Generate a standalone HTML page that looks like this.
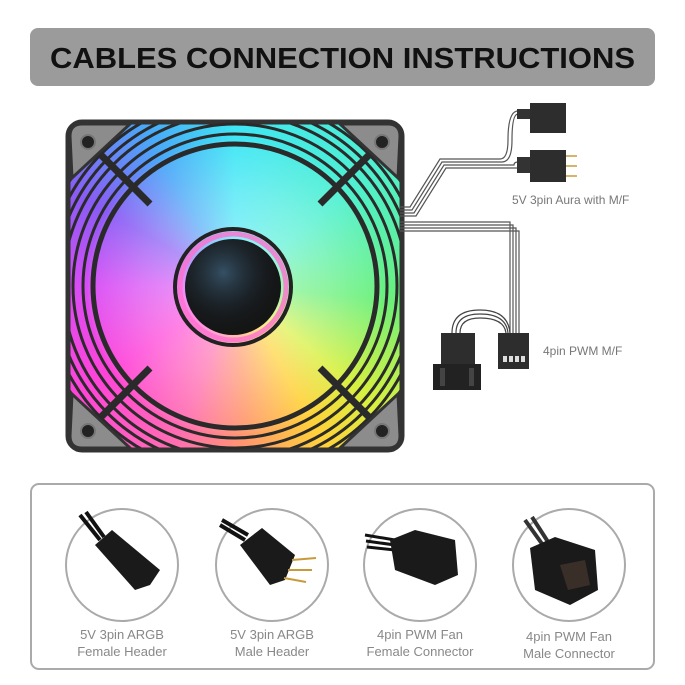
<!DOCTYPE html>
<html><head><meta charset="utf-8"><style>
html,body{margin:0;padding:0;background:#fff;}
#w{position:relative;width:685px;height:685px;overflow:hidden;font-family:"Liberation Sans",sans-serif;}
.abs{position:absolute;}
#sq{left:68px;top:122px;width:334px;height:328px;border-radius:14px;background:conic-gradient(from 0deg at 50% 50%,#3fe6f5 0deg,#4ef0d0 50deg,#6af07a 95deg,#d8f040 130deg,#ffd23a 150deg,#ff9a6a 175deg,#ff6fb0 200deg,#ff44d8 235deg,#d84cf5 270deg,#8a5cf5 300deg,#4aa8f8 330deg,#3fe6f5 360deg);}
#glow{left:88px;top:140px;width:294px;height:294px;border-radius:50%;background:radial-gradient(circle at 50% 50%,rgba(255,255,255,.55) 0%,rgba(255,255,255,.25) 45%,rgba(255,255,255,0) 75%);}
</style></head><body><div id="w">
<div class="abs" id="sq"></div>
<div class="abs" id="glow"></div>
<svg class="abs" style="left:0;top:0" width="685" height="685" viewBox="0 0 685 685">
<defs>
<radialGradient id="hg" cx="40%" cy="35%" r="70%"><stop offset="0" stop-color="#6ad" stop-opacity=".4"/><stop offset="1" stop-color="#000" stop-opacity="0"/></radialGradient>
<clipPath id="sqc"><rect x="68" y="122" width="334" height="328" rx="14"/></clipPath>
</defs>
<!-- title -->
<rect x="30" y="28" width="625" height="58" rx="8" fill="#9b9b9b"/>
<text x="50" y="68" textLength="585" lengthAdjust="spacingAndGlyphs" font-family="Liberation Sans, sans-serif" font-weight="bold" font-size="29" fill="#111">CABLES CONNECTION INSTRUCTIONS</text>
<!-- fan ribs stripes -->
<g clip-path="url(#sqc)" fill="none" stroke="#2a2a2a" stroke-width="3">
<circle cx="235" cy="286" r="172"/><circle cx="235" cy="286" r="180"/><circle cx="235" cy="286" r="188"/><circle cx="235" cy="286" r="196"/><circle cx="235" cy="286" r="204"/><circle cx="235" cy="286" r="212"/>
</g>
<!-- fan frame -->
<rect x="68" y="122" width="334" height="328" rx="14" fill="none" stroke="#333" stroke-width="5"/>
<g fill="#8c8c8c" stroke="#333" stroke-width="3">
<path d="M70 136 Q70 124 82 124 L130 124 L72 178 Z"/>
<path d="M400 136 Q400 124 388 124 L340 124 L398 178 Z"/>
<path d="M70 436 Q70 448 82 448 L130 448 L72 394 Z"/>
<path d="M400 436 Q400 448 388 448 L340 448 L398 394 Z"/>
</g>
<g fill="#222" stroke="#777" stroke-width="2">
<circle cx="88" cy="142" r="7"/><circle cx="382" cy="142" r="7"/>
<circle cx="88" cy="431" r="7"/><circle cx="382" cy="431" r="7"/>
</g>
<g fill="none" stroke="#2a2a2a" stroke-width="3">
<circle cx="235" cy="286" r="162"/>
<circle cx="235" cy="286" r="152"/>
<circle cx="235" cy="286" r="142" stroke-width="5"/>
</g>
<g stroke="#2a2a2a" stroke-width="7">
<line x1="100" y1="154" x2="150" y2="204"/><line x1="370" y1="154" x2="320" y2="204"/>
<line x1="100" y1="418" x2="150" y2="368"/><line x1="370" y1="418" x2="320" y2="368"/>
</g>
<!-- hub -->
<circle cx="233" cy="287" r="58" fill="none" stroke="#222" stroke-width="4"/>
<circle cx="233" cy="287" r="53" fill="none" stroke="#ff6fd0" stroke-width="5" opacity=".8"/>
<circle cx="233" cy="287" r="48" fill="#151515"/>
<circle cx="233" cy="287" r="48" fill="url(#hg)"/>
<!-- cables group 1 -->
<g fill="none" stroke="#555" stroke-width="1.2">
<path d="M400 207 L410 207 L440 159 L500 159 Q508 159 508 140 Q508 111 518 111"/>
<path d="M400 210 L412 210 L442 162 L502 162 Q512 162 512 140 Q512 114 518 114"/>
<path d="M400 213 L414 213 L444 165 L504 165 Q514 165 514 165 Q514 162 518 162"/>
<path d="M400 216 L416 216 L446 168 L506 168 Q516 168 518 168"/>
</g>
<rect x="517" y="109" width="14" height="10" fill="#333"/>
<rect x="530" y="103" width="36" height="30" fill="#2d2d2d"/>
<rect x="517" y="157" width="14" height="16" fill="#333"/>
<rect x="530" y="150" width="36" height="32" fill="#2d2d2d"/>
<g stroke="#c89a3a" stroke-width="1.5"><line x1="566" y1="156" x2="577" y2="156"/><line x1="566" y1="166" x2="577" y2="166"/><line x1="566" y1="176" x2="577" y2="176"/></g>
<text x="512" y="204" font-family="Liberation Sans, sans-serif" font-size="12" fill="#777">5V 3pin Aura with M/F</text>
<!-- cables group 2 -->
<g fill="none" stroke="#555" stroke-width="1.2">
<path d="M400 222 L510 222 L510 333"/>
<path d="M400 225 L513 225 L513 333"/>
<path d="M400 228 L516 228 L516 333"/>
<path d="M400 231 L519 231 L519 333"/>
</g>
<g fill="none" stroke="#444" stroke-width="1.2">
<path d="M452 333 Q452 310 480 310 Q508 310 510 333"/>
<path d="M456 333 Q456 314 480 314 Q506 314 508 333"/>
<path d="M460 333 Q460 318 480 318 Q504 318 506 333"/>
</g>
<rect x="498" y="333" width="31" height="36" fill="#2d2d2d"/>
<g fill="#ddd"><rect x="503" y="356" width="4" height="6"/><rect x="509" y="356" width="4" height="6"/><rect x="515" y="356" width="4" height="6"/><rect x="521" y="356" width="4" height="6"/></g>
<rect x="441" y="333" width="34" height="31" fill="#2d2d2d"/>
<rect x="433" y="364" width="48" height="26" fill="#222"/>
<rect x="440" y="368" width="5" height="18" fill="#444"/><rect x="469" y="368" width="5" height="18" fill="#444"/>
<text x="543" y="355" font-family="Liberation Sans, sans-serif" font-size="12" fill="#777">4pin PWM M/F</text>
<!-- bottom panel -->
<rect x="31" y="484" width="623" height="185" rx="8" fill="#fff" stroke="#aaa" stroke-width="2"/>
<g fill="#fff" stroke="#aaa" stroke-width="2">
<circle cx="122" cy="565" r="56"/><circle cx="272" cy="565" r="56"/>
<circle cx="420" cy="565" r="56"/><circle cx="569" cy="565" r="56"/>
</g>
<g fill="none" stroke="#111" stroke-width="4"><path d="M80 515 L100 540"/><path d="M86 512 L104 537"/></g>
<path d="M95 545 L112 530 L160 570 L150 585 L135 590 Z" fill="#1a1a1a"/>
<g fill="none" stroke="#111" stroke-width="4"><path d="M220 525 L245 540"/><path d="M222 520 L248 535"/></g>
<path d="M240 545 L262 528 L295 555 L285 580 L270 585 Z" fill="#1a1a1a"/>
<g stroke="#c89a3a" stroke-width="2"><line x1="292" y1="560" x2="316" y2="558"/><line x1="288" y1="570" x2="312" y2="570"/><line x1="284" y1="578" x2="306" y2="582"/></g>
<g fill="none" stroke="#111" stroke-width="3"><path d="M365 535 L395 540"/><path d="M366 541 L395 545"/><path d="M367 547 L395 550"/></g>
<path d="M390 540 L415 530 L455 540 L458 575 L435 585 L395 570 Z" fill="#1a1a1a"/>
<g fill="none" stroke="#333" stroke-width="4"><path d="M525 520 L545 548"/><path d="M532 517 L550 545"/></g>
<path d="M530 548 L555 537 L595 550 L598 590 L570 605 L535 590 Z" fill="#1a1a1a"/>
<path d="M560 565 L585 560 L590 585 L568 590 Z" fill="#3a2e28"/>
<g font-family="Liberation Sans, sans-serif" font-size="13" fill="#888" text-anchor="middle">
<text x="122" y="639">5V 3pin ARGB</text><text x="122" y="656">Female Header</text>
<text x="272" y="639">5V 3pin ARGB</text><text x="272" y="656">Male Header</text>
<text x="420" y="639">4pin PWM Fan</text><text x="420" y="656">Female Connector</text>
<text x="569" y="641">4pin PWM Fan</text><text x="569" y="658">Male Connector</text>
</g>
</svg>
</div></body></html>
